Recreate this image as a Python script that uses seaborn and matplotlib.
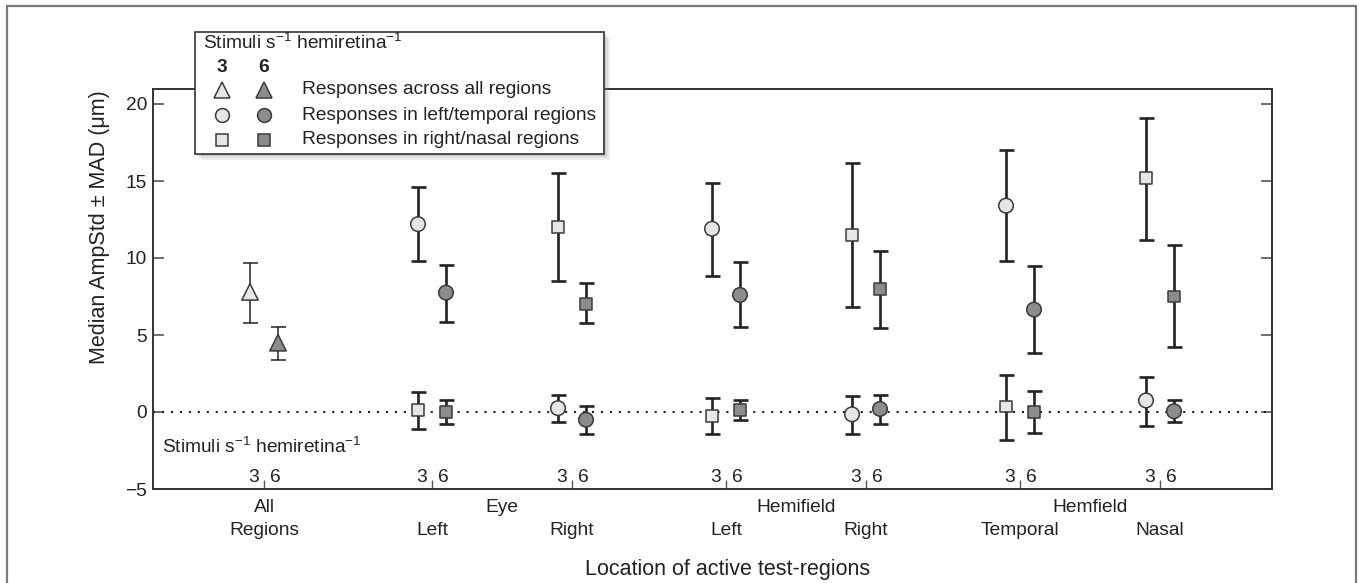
import numpy as np
import pandas as pd
import matplotlib
matplotlib.use("Agg")
import matplotlib.pyplot as plt
from matplotlib.lines import Line2D
from matplotlib.patches import Rectangle
from matplotlib.transforms import blended_transform_factory
import seaborn as sns

W, H = 1360, 583

# x categories
group_labels = ["All\nRegions", "\nLeft", "\nRight", "\nLeft", "\nRight", "\nTemporal", "\nNasal"]
group_pos = [0.0, 1.2, 2.2, 3.3, 4.3, 5.4, 6.4]
group_titles = ["Eye", "Hemifield", "Hemfield"]
group_title_pos = [1.7, 3.8, 5.9]
rates = ["3", "6"]

# upper row: responses in the stimulated regions
upper_shape = ["^", "o", "s", "o", "s", "o", "s"]
upper_3 = [7.8, 12.2, 12.0, 11.9, 11.5, 13.4, 15.2]
upper_3_lo = [5.8, 9.8, 8.5, 8.8, 6.8, 9.8, 11.2]
upper_3_hi = [9.7, 14.6, 15.5, 14.9, 16.2, 17.0, 19.1]
upper_6 = [4.5, 7.75, 7.0, 7.6, 8.0, 6.65, 7.5]
upper_6_lo = [3.4, 5.85, 5.75, 5.5, 5.45, 3.85, 4.2]
upper_6_hi = [5.5, 9.55, 8.4, 9.75, 10.45, 9.45, 10.85]

# lower row: responses in the other regions
lower_shape = ["s", "o", "s", "o", "s", "o"]
lower_3 = [0.15, 0.25, -0.25, -0.15, 0.35, 0.75]
lower_3_lo = [-1.1, -0.65, -1.4, -1.45, -1.8, -0.9]
lower_3_hi = [1.3, 1.1, 0.9, 1.05, 2.4, 2.25]
lower_6 = [0.0, -0.5, 0.15, 0.2, 0.0, 0.05]
lower_6_lo = [-0.75, -1.4, -0.5, -0.75, -1.35, -0.65]
lower_6_hi = [0.75, 0.4, 0.75, 1.1, 1.35, 0.8]

legend_rows = ["Responses across all regions",
               "Responses in left/temporal regions",
               "Responses in right/nasal regions"]
legend_shapes = ["^", "o", "s"]

light, dark, edge = "#e6e6e6", "#8c8c8c", "#3a3a3a"
fills = {"3": light, "6": dark}
sizes = {"^": 140, "o": 110, "s": 70}
msizes = {"^": 11.8, "o": 10.5, "s": 8.4}
offset = {"3": -0.1, "6": 0.1}
fs = 13.8
txt = "#222222"

rows = []
for rate, vals, lo, hi in [("3", upper_3, upper_3_lo, upper_3_hi), ("6", upper_6, upper_6_lo, upper_6_hi)]:
    for i, p in enumerate(group_pos):
        rows.append(dict(x=p + offset[rate], y=vals[i], lo=lo[i], hi=hi[i], rate=rate, shape=upper_shape[i], grp=i))
for rate, vals, lo, hi in [("3", lower_3, lower_3_lo, lower_3_hi), ("6", lower_6, lower_6_lo, lower_6_hi)]:
    for i, p in enumerate(group_pos[1:]):
        rows.append(dict(x=p + offset[rate], y=vals[i], lo=lo[i], hi=hi[i], rate=rate, shape=lower_shape[i], grp=i + 1))
df = pd.DataFrame(rows)

sns.set_theme(style="ticks")
plt.rcParams["font.family"] = ["Liberation Sans", "DejaVu Sans"]
plt.rcParams["mathtext.default"] = "regular"

fig = plt.figure(figsize=(W / 100, H / 100), dpi=100)
ax = fig.add_axes([152.7 / W, 1 - 489 / H, (1272 - 152.7) / W, (489 - 88.6) / H])

def px(x, y):
    return x / W, 1 - y / H

# outer frame
fig.add_artist(Rectangle(px(7, 620), (1356 - 7) / W, (620 - 6) / H, transform=fig.transFigure,
                         fill=False, edgecolor="#7a7a7a", lw=1.6))

ax.axhline(0, color=txt, lw=1.5, ls=(0, (1, 3.3)), zorder=1)

for is_all, sub in df.groupby(df["grp"] == 0):
    ax.errorbar(sub["x"], sub["y"], yerr=[sub["y"] - sub["lo"], sub["hi"] - sub["y"]], fmt="none",
                ecolor=txt, elinewidth=1.1 if is_all else 1.9, capsize=5.4,
                capthick=1.1 if is_all else 1.9, zorder=2)

sns.scatterplot(data=df, x="x", y="y", hue="rate", style="shape", size="shape",
                markers={k: k for k in sizes}, sizes=sizes, palette=fills,
                edgecolor=edge, linewidth=1.1, legend=False, zorder=3, ax=ax)

ax.set_xlim(-0.795, 7.2)
ax.set_ylim(-5, 21)
ax.set_yticks([-5, 0, 5, 10, 15, 20])
ax.set_yticklabels(["\u22125", "0", "5", "10", "15", "20"])
ax.set_xticks(group_pos)
ax.set_xticklabels(group_labels, linespacing=1.45)
ax.tick_params(axis="y", which="both", direction="in", left=True, right=True, length=8,
               width=1.2, color="#555555", labelsize=fs, pad=4, labelcolor=txt)
ax.tick_params(axis="x", direction="in", top=False, length=6.5, width=1.0, color="#555555",
               labelsize=fs, pad=7.5, labelcolor=txt)
for s in ax.spines.values():
    s.set_color("#333333")
    s.set_linewidth(1.4)

tr = blended_transform_factory(ax.transData, ax.transAxes)
for t, p in zip(group_titles, group_title_pos):
    ax.text(p, -0.045, t, transform=tr, ha="center", va="center", fontsize=fs, color=txt)
for p in group_pos:
    ax.text(p - 0.035, -4.25, "3", ha="right", va="center", fontsize=fs, color=txt)
    ax.text(p + 0.045, -4.25, "6", ha="left", va="center", fontsize=fs, color=txt)
tr2 = blended_transform_factory(ax.transAxes, ax.transData)
ax.text(0.008, -2.3, "Stimuli s$^{\u22121}$ hemiretina$^{\u22121}$", transform=tr2, ha="left", va="center",
        fontsize=fs, color=txt)

ax.set_xlabel("Location of active test-regions", fontsize=15.5, color=txt)
ax.xaxis.set_label_coords(0.514, -0.175)
ax.set_ylabel("Median AmpStd \u00b1 MAD (\u03bcm)", fontsize=15.5, color=txt)
ax.yaxis.set_label_coords(-0.038, 0.654)

# legend box drawn by hand
x0, y0, x1, y1 = 195, 32, 604, 154
for d, a in [(6, 0.10), (4, 0.15), (2, 0.2)]:
    fig.add_artist(Rectangle(px(x0 + d, y1 + d), (x1 - x0) / W, (y1 - y0) / H, transform=fig.transFigure,
                             facecolor="#777777", edgecolor="none", alpha=a, zorder=9))
fig.add_artist(Rectangle(px(x0, y1), (x1 - x0) / W, (y1 - y0) / H, transform=fig.transFigure,
                         facecolor="white", edgecolor="#333333", lw=1.2, zorder=10))
fig.text(*px(203, 43), "Stimuli s$^{-1}$ hemiretina$^{-1}$", ha="left", va="center",
         fontsize=fs, color=txt, zorder=11)
for rate, xm in zip(rates, [222, 264]):
    fig.text(*px(xm, 67), rate, ha="center", va="center", fontsize=fs, fontweight="bold",
             color=txt, zorder=11)
for j, (label, shp) in enumerate(zip(legend_rows, legend_shapes)):
    yr = 90 + 25 * j
    for rate, xm in zip(rates, [222, 264]):
        fx, fy = px(xm, yr)
        fig.add_artist(Line2D([fx], [fy], transform=fig.transFigure, marker=shp, ls="none",
                              markersize=msizes[shp] * 0.95, markerfacecolor=fills[rate],
                              markeredgecolor=edge, markeredgewidth=1.1, zorder=11))
    fig.text(*px(302, yr), label, ha="left", va="center", fontsize=fs, color=txt, zorder=11)

fig.savefig("out.png", dpi=100)
